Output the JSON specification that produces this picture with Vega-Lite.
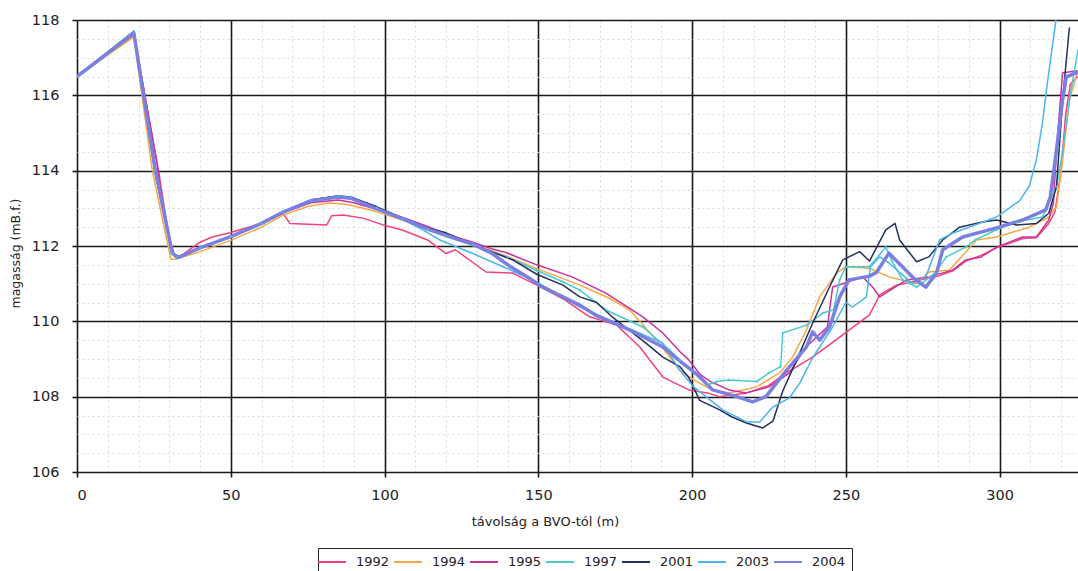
{
  "$schema": "https://vega.github.io/schema/vega-lite/v6.json",
  "width": 1001,
  "height": 452,
  "autosize": {"type": "none"},
  "padding": {"left": 77, "top": 20, "right": 0, "bottom": 99},
  "background": "white",
  "config": {
    "view": {"stroke": null},
    "font": "DejaVu Sans",
    "axis": {"labelFont": "DejaVu Sans", "titleFont": "DejaVu Sans", "labelColor": "#222", "titleColor": "#222", "titleFontWeight": "normal"}
  },
  "data": {"values": [
    {"year":"1992","x":0,"y":116.5},{"year":"1992","x":18.5,"y":117.6},{"year":"1992","x":26.5,"y":114.0},{"year":"1992","x":30,"y":112.2},{"year":"1992","x":32,"y":111.7},{"year":"1992","x":34,"y":111.75},{"year":"1992","x":40,"y":112.1},{"year":"1992","x":44,"y":112.24},{"year":"1992","x":49.7,"y":112.35},{"year":"1992","x":60,"y":112.6},{"year":"1992","x":67,"y":112.87},{"year":"1992","x":69.2,"y":112.6},{"year":"1992","x":81.2,"y":112.56},{"year":"1992","x":82.8,"y":112.8},{"year":"1992","x":86.5,"y":112.82},{"year":"1992","x":93,"y":112.74},{"year":"1992","x":99.5,"y":112.56},{"year":"1992","x":106,"y":112.42},{"year":"1992","x":114,"y":112.16},{"year":"1992","x":120,"y":111.8},{"year":"1992","x":123,"y":111.9},{"year":"1992","x":133,"y":111.31},{"year":"1992","x":141.7,"y":111.28},{"year":"1992","x":149.5,"y":110.96},{"year":"1992","x":158,"y":110.6},{"year":"1992","x":166.7,"y":110.12},{"year":"1992","x":175.5,"y":109.9},{"year":"1992","x":183,"y":109.32},{"year":"1992","x":190.5,"y":108.52},{"year":"1992","x":199,"y":108.18},{"year":"1992","x":205,"y":108.1},{"year":"1992","x":209,"y":108.0},{"year":"1992","x":217.7,"y":108.1},{"year":"1992","x":225,"y":108.3},{"year":"1992","x":230,"y":108.6},{"year":"1992","x":239.2,"y":109.05},{"year":"1992","x":249,"y":109.64},{"year":"1992","x":257.7,"y":110.17},{"year":"1992","x":261,"y":110.7},{"year":"1992","x":266.5,"y":110.96},{"year":"1992","x":274,"y":111.1},{"year":"1992","x":280,"y":111.2},{"year":"1992","x":285,"y":111.35},{"year":"1992","x":289,"y":111.6},{"year":"1992","x":294,"y":111.75},{"year":"1992","x":299,"y":111.95},{"year":"1992","x":307.5,"y":112.2},{"year":"1992","x":312,"y":112.22},{"year":"1992","x":316,"y":112.6},{"year":"1992","x":318,"y":112.9},{"year":"1992","x":320,"y":114.0},{"year":"1992","x":321.5,"y":115.5},{"year":"1992","x":323,"y":116.3},{"year":"1992","x":325.5,"y":116.5},
    {"year":"1994","x":0,"y":116.5},{"year":"1994","x":18.5,"y":117.55},{"year":"1994","x":24.5,"y":114.0},{"year":"1994","x":30.5,"y":111.65},{"year":"1994","x":32,"y":111.65},{"year":"1994","x":40,"y":111.85},{"year":"1994","x":50,"y":112.15},{"year":"1994","x":60,"y":112.5},{"year":"1994","x":67,"y":112.82},{"year":"1994","x":75,"y":113.05},{"year":"1994","x":82,"y":113.14},{"year":"1994","x":88,"y":113.1},{"year":"1994","x":97,"y":112.92},{"year":"1994","x":106,"y":112.68},{"year":"1994","x":114,"y":112.45},{"year":"1994","x":120,"y":112.25},{"year":"1994","x":128.7,"y":112.05},{"year":"1994","x":140,"y":111.72},{"year":"1994","x":149.5,"y":111.4},{"year":"1994","x":161,"y":111.04},{"year":"1994","x":163.5,"y":110.96},{"year":"1994","x":173,"y":110.62},{"year":"1994","x":179.7,"y":110.3},{"year":"1994","x":188.5,"y":109.5},{"year":"1994","x":196,"y":108.7},{"year":"1994","x":201.5,"y":108.4},{"year":"1994","x":206.7,"y":108.18},{"year":"1994","x":212,"y":108.1},{"year":"1994","x":221,"y":108.26},{"year":"1994","x":228.5,"y":108.63},{"year":"1994","x":232.7,"y":109.05},{"year":"1994","x":237.2,"y":109.77},{"year":"1994","x":241.5,"y":110.65},{"year":"1994","x":247,"y":111.28},{"year":"1994","x":250,"y":111.45},{"year":"1994","x":257.7,"y":111.41},{"year":"1994","x":264,"y":111.18},{"year":"1994","x":273,"y":111.0},{"year":"1994","x":277,"y":111.31},{"year":"1994","x":283.7,"y":111.36},{"year":"1994","x":292.5,"y":112.16},{"year":"1994","x":299,"y":112.24},{"year":"1994","x":309.7,"y":112.5},{"year":"1994","x":316,"y":112.77},{"year":"1994","x":318.5,"y":113.04},{"year":"1994","x":320.5,"y":114.28},{"year":"1994","x":322.7,"y":115.88},{"year":"1994","x":325.5,"y":116.67},
    {"year":"1995","x":0,"y":116.5},{"year":"1995","x":18.5,"y":117.65},{"year":"1995","x":26,"y":114.2},{"year":"1995","x":29,"y":112.5},{"year":"1995","x":31.5,"y":111.75},{"year":"1995","x":33,"y":111.7},{"year":"1995","x":40,"y":111.95},{"year":"1995","x":50,"y":112.25},{"year":"1995","x":60,"y":112.6},{"year":"1995","x":67,"y":112.88},{"year":"1995","x":76,"y":113.15},{"year":"1995","x":85,"y":113.22},{"year":"1995","x":90,"y":113.15},{"year":"1995","x":97,"y":112.98},{"year":"1995","x":106,"y":112.76},{"year":"1995","x":114,"y":112.52},{"year":"1995","x":120,"y":112.32},{"year":"1995","x":128.7,"y":112.1},{"year":"1995","x":135,"y":111.92},{"year":"1995","x":139.7,"y":111.82},{"year":"1995","x":149.5,"y":111.5},{"year":"1995","x":161,"y":111.18},{"year":"1995","x":172,"y":110.75},{"year":"1995","x":184,"y":110.12},{"year":"1995","x":190.5,"y":109.69},{"year":"1995","x":196,"y":109.2},{"year":"1995","x":199,"y":108.97},{"year":"1995","x":202.5,"y":108.6},{"year":"1995","x":206,"y":108.4},{"year":"1995","x":212,"y":108.18},{"year":"1995","x":217.7,"y":108.1},{"year":"1995","x":225,"y":108.26},{"year":"1995","x":231.7,"y":108.63},{"year":"1995","x":237,"y":109.32},{"year":"1995","x":240.5,"y":109.58},{"year":"1995","x":244,"y":109.85},{"year":"1995","x":245.7,"y":110.91},{"year":"1995","x":249,"y":111.0},{"year":"1995","x":255.5,"y":111.18},{"year":"1995","x":258.7,"y":110.91},{"year":"1995","x":261,"y":110.65},{"year":"1995","x":264,"y":110.8},{"year":"1995","x":269.7,"y":111.1},{"year":"1995","x":277,"y":111.18},{"year":"1995","x":284.7,"y":111.36},{"year":"1995","x":289,"y":111.63},{"year":"1995","x":294,"y":111.71},{"year":"1995","x":299,"y":111.97},{"year":"1995","x":307.5,"y":112.24},{"year":"1995","x":312,"y":112.24},{"year":"1995","x":316,"y":112.69},{"year":"1995","x":317.5,"y":113.14},{"year":"1995","x":318.5,"y":114.5},{"year":"1995","x":319.5,"y":115.6},{"year":"1995","x":320.5,"y":116.6},{"year":"1995","x":325.5,"y":116.65},
    {"year":"1997","x":0,"y":116.5},{"year":"1997","x":18.5,"y":117.7},{"year":"1997","x":25.3,"y":114.0},{"year":"1997","x":31,"y":111.8},{"year":"1997","x":32.5,"y":111.7},{"year":"1997","x":40,"y":111.95},{"year":"1997","x":50,"y":112.25},{"year":"1997","x":60,"y":112.6},{"year":"1997","x":67,"y":112.9},{"year":"1997","x":76,"y":113.22},{"year":"1997","x":85,"y":113.33},{"year":"1997","x":89,"y":113.3},{"year":"1997","x":97.5,"y":113.02},{"year":"1997","x":106,"y":112.72},{"year":"1997","x":114,"y":112.45},{"year":"1997","x":120,"y":112.25},{"year":"1997","x":128.7,"y":112.02},{"year":"1997","x":140,"y":111.7},{"year":"1997","x":149.5,"y":111.35},{"year":"1997","x":158,"y":111.05},{"year":"1997","x":163.5,"y":110.83},{"year":"1997","x":172,"y":110.3},{"year":"1997","x":184,"y":109.85},{"year":"1997","x":192.7,"y":109.24},{"year":"1997","x":196,"y":108.97},{"year":"1997","x":205,"y":108.31},{"year":"1997","x":208,"y":108.4},{"year":"1997","x":212,"y":108.44},{"year":"1997","x":221,"y":108.4},{"year":"1997","x":225,"y":108.63},{"year":"1997","x":228.8,"y":108.8},{"year":"1997","x":229.5,"y":109.69},{"year":"1997","x":237.2,"y":109.9},{"year":"1997","x":242.5,"y":110.22},{"year":"1997","x":246,"y":110.3},{"year":"1997","x":248,"y":111.1},{"year":"1997","x":250,"y":111.45},{"year":"1997","x":257.7,"y":111.45},{"year":"1997","x":263,"y":111.97},{"year":"1997","x":265,"y":111.6},{"year":"1997","x":268.5,"y":111.1},{"year":"1997","x":273,"y":110.91},{"year":"1997","x":279,"y":111.28},{"year":"1997","x":282.7,"y":111.71},{"year":"1997","x":289,"y":111.97},{"year":"1997","x":292,"y":112.16},{"year":"1997","x":299,"y":112.43},{"year":"1997","x":305.5,"y":112.64},{"year":"1997","x":314,"y":112.77},{"year":"1997","x":318.5,"y":113.57},{"year":"1997","x":320.5,"y":114.5},{"year":"1997","x":322.7,"y":115.88},{"year":"1997","x":325.5,"y":117.2},
    {"year":"2001","x":0,"y":116.5},{"year":"2001","x":18.5,"y":117.7},{"year":"2001","x":25.3,"y":114.0},{"year":"2001","x":31,"y":111.8},{"year":"2001","x":32.5,"y":111.68},{"year":"2001","x":35,"y":111.75},{"year":"2001","x":40,"y":111.95},{"year":"2001","x":50,"y":112.25},{"year":"2001","x":60,"y":112.6},{"year":"2001","x":67,"y":112.9},{"year":"2001","x":76,"y":113.22},{"year":"2001","x":84.5,"y":113.33},{"year":"2001","x":89,"y":113.3},{"year":"2001","x":97.5,"y":113.04},{"year":"2001","x":106,"y":112.74},{"year":"2001","x":114,"y":112.48},{"year":"2001","x":120,"y":112.35},{"year":"2001","x":131,"y":111.97},{"year":"2001","x":141.7,"y":111.63},{"year":"2001","x":149.5,"y":111.25},{"year":"2001","x":158,"y":110.96},{"year":"2001","x":163.5,"y":110.65},{"year":"2001","x":169,"y":110.5},{"year":"2001","x":174,"y":110.12},{"year":"2001","x":185,"y":109.42},{"year":"2001","x":190.5,"y":109.05},{"year":"2001","x":196,"y":108.8},{"year":"2001","x":199,"y":108.5},{"year":"2001","x":202.5,"y":107.9},{"year":"2001","x":209,"y":107.65},{"year":"2001","x":213,"y":107.46},{"year":"2001","x":217.7,"y":107.3},{"year":"2001","x":223,"y":107.17},{"year":"2001","x":226.3,"y":107.35},{"year":"2001","x":229.5,"y":108.15},{"year":"2001","x":234,"y":108.97},{"year":"2001","x":239.2,"y":109.95},{"year":"2001","x":244.7,"y":110.91},{"year":"2001","x":249,"y":111.63},{"year":"2001","x":254.5,"y":111.85},{"year":"2001","x":257.7,"y":111.6},{"year":"2001","x":263,"y":112.43},{"year":"2001","x":266,"y":112.6},{"year":"2001","x":267.5,"y":112.16},{"year":"2001","x":273,"y":111.58},{"year":"2001","x":277,"y":111.71},{"year":"2001","x":281.5,"y":112.16},{"year":"2001","x":287,"y":112.5},{"year":"2001","x":294.5,"y":112.64},{"year":"2001","x":299,"y":112.69},{"year":"2001","x":305.5,"y":112.56},{"year":"2001","x":312,"y":112.6},{"year":"2001","x":316,"y":112.87},{"year":"2001","x":318.5,"y":113.57},{"year":"2001","x":320.5,"y":115.88},{"year":"2001","x":322.7,"y":117.8},
    {"year":"2003","x":0,"y":116.5},{"year":"2003","x":18.5,"y":117.7},{"year":"2003","x":25.3,"y":114.0},{"year":"2003","x":31,"y":111.8},{"year":"2003","x":32.5,"y":111.7},{"year":"2003","x":40,"y":111.95},{"year":"2003","x":50,"y":112.25},{"year":"2003","x":60,"y":112.6},{"year":"2003","x":67,"y":112.9},{"year":"2003","x":76,"y":113.22},{"year":"2003","x":85,"y":113.3},{"year":"2003","x":89,"y":113.27},{"year":"2003","x":97,"y":113.0},{"year":"2003","x":106,"y":112.7},{"year":"2003","x":112,"y":112.45},{"year":"2003","x":118,"y":112.16},{"year":"2003","x":128.7,"y":111.8},{"year":"2003","x":139.7,"y":111.41},{"year":"2003","x":149.5,"y":111.04},{"year":"2003","x":163.5,"y":110.38},{"year":"2003","x":175.5,"y":109.95},{"year":"2003","x":190.5,"y":109.42},{"year":"2003","x":196,"y":108.7},{"year":"2003","x":200.5,"y":108.26},{"year":"2003","x":210,"y":107.65},{"year":"2003","x":217.7,"y":107.33},{"year":"2003","x":222,"y":107.33},{"year":"2003","x":226.3,"y":107.73},{"year":"2003","x":231.7,"y":107.97},{"year":"2003","x":235,"y":108.36},{"year":"2003","x":239,"y":109.0},{"year":"2003","x":245.7,"y":109.85},{"year":"2003","x":250,"y":110.5},{"year":"2003","x":252.2,"y":110.38},{"year":"2003","x":256.7,"y":110.65},{"year":"2003","x":258,"y":111.45},{"year":"2003","x":261,"y":111.71},{"year":"2003","x":264,"y":111.55},{"year":"2003","x":271.7,"y":111.0},{"year":"2003","x":276,"y":111.18},{"year":"2003","x":280.5,"y":112.16},{"year":"2003","x":284.7,"y":112.34},{"year":"2003","x":293.5,"y":112.6},{"year":"2003","x":299,"y":112.77},{"year":"2003","x":303,"y":113.0},{"year":"2003","x":306.5,"y":113.2},{"year":"2003","x":309.7,"y":113.6},{"year":"2003","x":312,"y":114.3},{"year":"2003","x":314,"y":115.3},{"year":"2003","x":315.5,"y":116.3},{"year":"2003","x":317,"y":117.2},{"year":"2003","x":318.5,"y":118.1},
    {"year":"2004","x":0,"y":116.5},{"year":"2004","x":18.5,"y":117.65},{"year":"2004","x":25.5,"y":114.0},{"year":"2004","x":31,"y":111.8},{"year":"2004","x":33,"y":111.7},{"year":"2004","x":40,"y":111.95},{"year":"2004","x":50,"y":112.25},{"year":"2004","x":60,"y":112.6},{"year":"2004","x":67,"y":112.9},{"year":"2004","x":76,"y":113.2},{"year":"2004","x":85,"y":113.3},{"year":"2004","x":89,"y":113.27},{"year":"2004","x":97,"y":113.0},{"year":"2004","x":106,"y":112.72},{"year":"2004","x":114,"y":112.45},{"year":"2004","x":120,"y":112.28},{"year":"2004","x":128.7,"y":112.05},{"year":"2004","x":135,"y":111.8},{"year":"2004","x":141,"y":111.45},{"year":"2004","x":147,"y":111.15},{"year":"2004","x":150.5,"y":110.95},{"year":"2004","x":158,"y":110.65},{"year":"2004","x":163.5,"y":110.43},{"year":"2004","x":169,"y":110.15},{"year":"2004","x":179.7,"y":109.77},{"year":"2004","x":185,"y":109.55},{"year":"2004","x":190.5,"y":109.32},{"year":"2004","x":196,"y":108.95},{"year":"2004","x":201.5,"y":108.6},{"year":"2004","x":206.7,"y":108.18},{"year":"2004","x":214.5,"y":108.0},{"year":"2004","x":219.7,"y":107.86},{"year":"2004","x":224,"y":108.0},{"year":"2004","x":230.7,"y":108.7},{"year":"2004","x":237.2,"y":109.32},{"year":"2004","x":239.2,"y":109.72},{"year":"2004","x":241.5,"y":109.5},{"year":"2004","x":244.7,"y":109.85},{"year":"2004","x":248,"y":110.65},{"year":"2004","x":251,"y":111.1},{"year":"2004","x":257.7,"y":111.2},{"year":"2004","x":260,"y":111.3},{"year":"2004","x":264,"y":111.81},{"year":"2004","x":268.5,"y":111.44},{"year":"2004","x":272,"y":111.15},{"year":"2004","x":276,"y":110.91},{"year":"2004","x":279.5,"y":111.28},{"year":"2004","x":281.5,"y":111.9},{"year":"2004","x":288,"y":112.24},{"year":"2004","x":299,"y":112.48},{"year":"2004","x":307.5,"y":112.69},{"year":"2004","x":315,"y":112.96},{"year":"2004","x":316.5,"y":113.3},{"year":"2004","x":318.5,"y":114.55},{"year":"2004","x":320.5,"y":115.88},{"year":"2004","x":321.7,"y":116.49},{"year":"2004","x":325.5,"y":116.62}
  ]},
  "layer": [
    {
      "mark": {"type": "line", "clip": true, "strokeJoin": "round"},
      "encoding": {
        "x": {
          "field": "x", "type": "quantitative",
          "scale": {"domain": [0, 325.5], "nice": false, "zero": false},
          "axis": {
            "values": [0,10,20,30,40,50,60,70,80,90,100,110,120,130,140,150,160,170,180,190,200,210,220,230,240,250,260,270,280,290,300,310,320],
            "tickCount": 100,
            "labelExpr": "datum.value % 50 === 0 ? format(datum.value, 'd') : ''",
            "labelOverlap": false,
            "labelFontSize": 14.5,
            "labelPadding": 11,
            "domain": false,
            "grid": true,
            "gridColor": {"condition": {"test": "datum.value % 50 === 0", "value": "#1a1a1a"}, "value": "#d6d6de"},
            "gridWidth": {"condition": {"test": "datum.value % 50 === 0", "value": 1.6}, "value": 0.9},
            "gridDash": {"condition": {"test": "datum.value % 50 === 0", "value": []}, "value": [2, 3]},
            "tickColor": "#1a1a1a",
            "tickWidth": 1.6,
            "tickSize": 5,
            "tickOpacity": {"condition": {"test": "datum.value % 50 === 0", "value": 1}, "value": 0},
            "title": "távolság a BVO-tól (m)",
            "titleFontSize": 13,
            "titleX": 468,
            "titleY": 49,
            "titleBaseline": "middle",
            "titleAlign": "center"
          }
        },
        "y": {
          "field": "y", "type": "quantitative",
          "scale": {"domain": [106, 118], "nice": false, "zero": false},
          "axis": {
            "values": [106,106.5,107,107.5,108,108.5,109,109.5,110,110.5,111,111.5,112,112.5,113,113.5,114,114.5,115,115.5,116,116.5,117,117.5,118],
            "tickCount": 100,
            "labelExpr": "datum.value % 2 === 0 ? format(datum.value, 'd') : ''",
            "labelOverlap": false,
            "labelFontSize": 14.5,
            "labelPadding": 13,
            "domain": false,
            "grid": true,
            "gridColor": {"condition": {"test": "datum.value % 2 === 0", "value": "#1a1a1a"}, "value": "#d6d6de"},
            "gridWidth": {"condition": {"test": "datum.value % 2 === 0", "value": 1.6}, "value": 0.9},
            "gridDash": {"condition": {"test": "datum.value % 2 === 0", "value": []}, "value": [2, 3]},
            "tickColor": "#1a1a1a",
            "tickWidth": 1.6,
            "tickSize": 5,
            "tickOpacity": {"condition": {"test": "datum.value % 2 === 0", "value": 1}, "value": 0},
            "title": "magasság (mB.f.)",
            "titleFontSize": 12.5,
            "titleAngle": -90,
            "titleX": -62,
            "titleY": 233,
            "titleBaseline": "middle",
            "titleAlign": "center"
          }
        },
        "color": {
          "field": "year", "type": "nominal",
          "scale": {
            "domain": ["1992","1994","1995","1997","2001","2003","2004"],
            "range": ["#f4407c","#f5a742","#c8329a","#4cc8d4","#22305e","#4ab4ee","#7b80e0"]
          },
          "legend": {
            "title": null,
            "orient": "none",
            "legendX": 241,
            "legendY": 528,
            "direction": "horizontal",
            "symbolType": "M-2,0H2",
            "symbolSize": 196,
            "symbolStrokeWidth": 2,
            "labelFontSize": 13,
            "labelFont": "DejaVu Sans",
            "labelColor": "#222",
            "labelOffset": 16,
            "columnPadding": 0,
            "padding": 6,
            "strokeColor": "#222",
            "fillColor": "white"
          }
        },
        "strokeWidth": {"condition": {"test": "datum.year === '2004'", "value": 3.5}, "value": 1.5}
      }
    },
    {
      "transform": [{"filter": "datum.year === '1997'"}],
      "mark": {"type": "point", "shape": "cross", "size": 8, "filled": true, "color": "#4cc8d4", "clip": true},
      "encoding": {
        "x": {"field": "x", "type": "quantitative"},
        "y": {"field": "y", "type": "quantitative"}
      }
    }
  ]
}
